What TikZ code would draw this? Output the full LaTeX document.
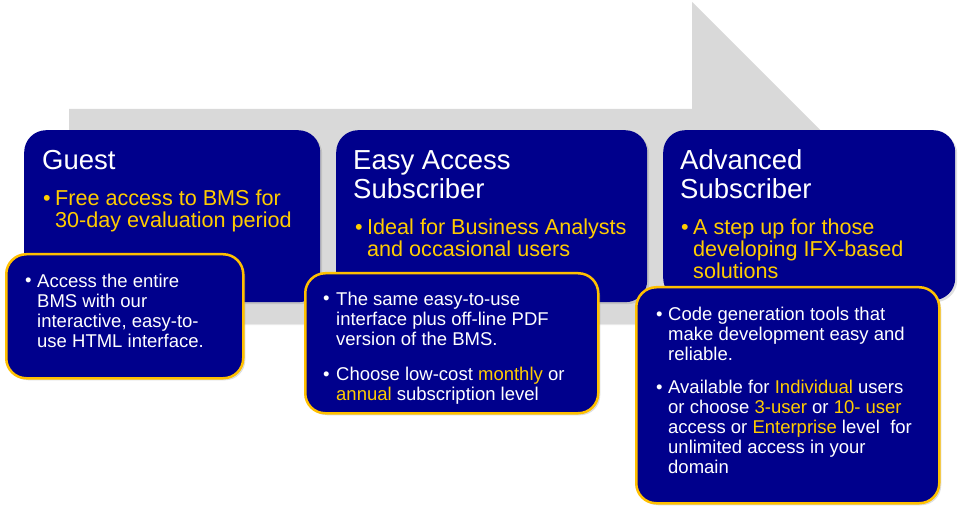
\documentclass[tikz,border=0pt]{standalone}
\usepackage{fontspec}
\setmainfont{Liberation Sans}
\usetikzlibrary{positioning, shadows}
\definecolor{tiernavy}{RGB}{0,0,140}
\definecolor{tiergold}{RGB}{255,204,0}
\definecolor{bordergold}{RGB}{255,192,0}
\definecolor{arrowgray}{RGB}{217,217,217}
\newcommand{\hl}[1]{\textcolor{tiergold}{#1}}

\begin{document}
\begin{tikzpicture}[x=1pt, y=-1pt,
    tier/.style={fill=tiernavy, rounded corners=22pt, anchor=north west, inner sep=0pt,
        drop shadow={shadow xshift=2pt, shadow yshift=-2pt, opacity=0.25}},
    note/.style={tier, draw=bordergold, line width=2.5pt, rounded corners=20pt},
    headtext/.style={anchor=base west, align=left, inner sep=0pt, text=white,
        font=\fontsize{27.5}{29}\selectfont},
    leadtext/.style={anchor=base west, align=left, inner sep=0pt, text=tiergold,
        font=\fontsize{21.6}{22}\selectfont},
    bodytext/.style={anchor=base west, align=left, inner sep=0pt, text=white,
        font=\fontsize{18.5}{20.2}\selectfont},
    leaddot/.style={leadtext},
    bodydot/.style={bodytext}]
    \fill[white] (0,0) rectangle (960,510);
    \useasboundingbox (0,0) rectangle (960,510);

    % Background arrow
    \fill[arrowgray, drop shadow={shadow xshift=1pt, shadow yshift=-1pt, opacity=0.15}]
        (69,109) -- (692,109) -- (692,2) -- (906,216) -- (692,430) -- (692,324) -- (69,324) -- cycle;

    % Tier boxes
    \foreach \name/\xpos/\bw/\bh in {guest/24/296pt/172pt, easy/336/311pt/172pt, adv/663/292pt/170pt} {
        \node[tier, minimum width=\bw, minimum height=\bh] (\name) at (\xpos,130) {};
    }

    % Detail boxes
    \foreach \name/\xpos/\ypos/\bw/\bh in {guestnote/5/253/237pt/124pt, easynote/304/272/293pt/140pt, advnote/635/286/303pt/216pt} {
        \node[note, minimum width=\bw, minimum height=\bh] (\name) at (\xpos,\ypos) {};
    }

    % Titles and leads (text nodes sit on the baseline of their last line)
    \node[headtext] (guesttitle) at (42,170) {Guest};
    \node[leaddot] (guestdot) at (43,206) {•};
    \node[leadtext] (guestlead) at (55,228) {Free access to BMS for\\30-day evaluation period};

    \node[headtext] (easytitle) at (353,199) {Easy Access\\Subscriber};
    \node[leaddot] (easydot) at (355,235) {•};
    \node[leadtext] (easylead) at (367,257) {Ideal for Business Analysts\\and occasional users};

    \node[headtext] (advtitle) at (680,199) {Advanced\\Subscriber};
    \node[leaddot] (advdot) at (681,235) {•};
    \node[leadtext] (advlead) at (693,279) {A step up for those\\developing IFX-based\\solutions};

    % Detail texts
    \node[bodydot] (guestnotedot) at (25,287) {•};
    \node[bodytext] (guestnotetext) at (37,347.6) {Access the entire\\BMS with our\\interactive,  easy-to-\\use HTML interface.};

    \node[bodydot] (easynotedota) at (323,305) {•};
    \node[bodytext] (easynotea) at (336,345.4) {The same easy-to-use\\interface plus off-line PDF\\version of the BMS.};
    \node[bodydot] (easynotedotb) at (323,380) {•};
    \node[bodytext] (easynoteb) at (336,400.2) {Choose low-cost \hl{monthly} or\\\hl{annual} subscription level};

    \node[bodydot] (advnotedota) at (656,320) {•};
    \node[bodytext] (advnotea) at (668,360.4) {Code generation tools that\\make development easy and\\reliable.};
    \node[bodydot] (advnotedotb) at (656,393) {•};
    \node[bodytext] (advnoteb) at (668,473.8) {Available for \hl{Individual} users\\or choose \hl{3-user} or \hl{10- user}\\access or \hl{Enterprise} level \ for\\unlimited access in your\\domain};
\end{tikzpicture}
\end{document}
